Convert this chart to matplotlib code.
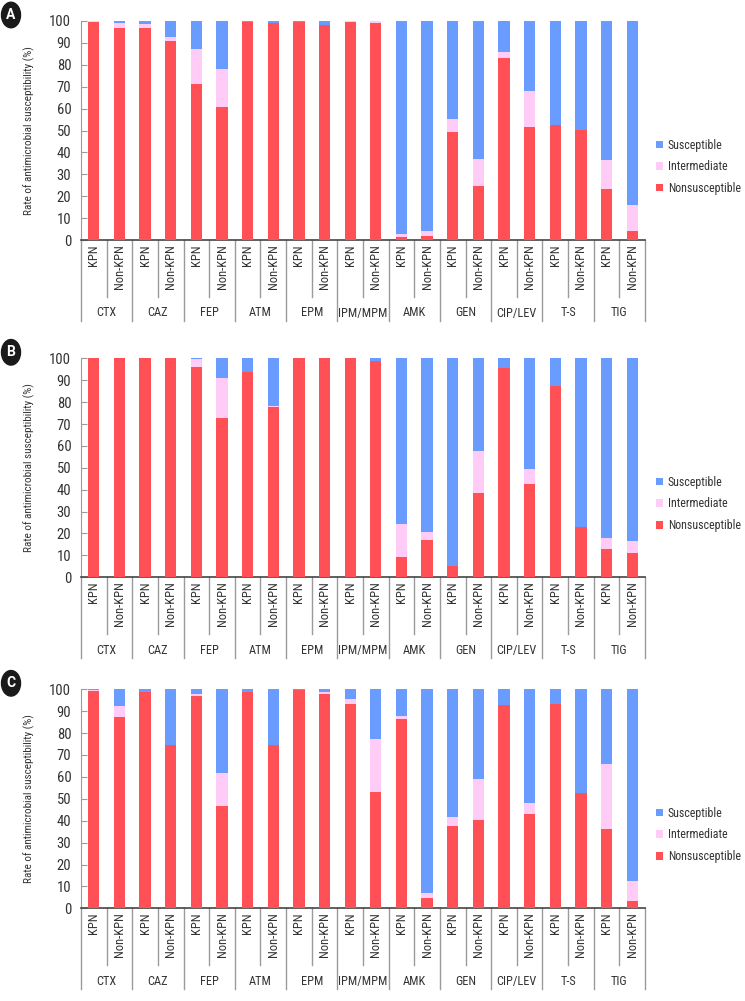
import matplotlib
matplotlib.use("Agg")
import matplotlib.pyplot as plt
from matplotlib.patches import Circle
import numpy as np

plt.rcParams['font.family'] = ['Roboto Condensed', 'Roboto', 'DejaVu Sans']

drugs = ["CTX", "CAZ", "FEP", "ATM", "EPM", "IPM/MPM", "AMK", "GEN", "CIP/LEV", "T-S", "TIG"]
groups = ["KPN", "Non-KPN"]

# Nonsusceptible and intermediate per bar (KPN, Non-KPN for each drug); susceptible = remainder
nonsus_A = [99.6, 96.8, 97.0, 90.9, 71.2, 60.7, 99.7, 99.1, 99.4, 98.3, 99.7, 99.1,
            1.5, 1.8, 49.5, 24.7, 83.0, 51.7, 52.5, 50.2, 23.3, 4.3]
inter_A = [0.4, 2.3, 1.5, 1.6, 16.0, 17.2, 0.0, 0.0, 0.0, 0.0, 0.2, 0.9,
           1.1, 2.3, 5.6, 12.4, 3.0, 16.5, 0.0, 0.0, 13.2, 11.7]

nonsus_B = [100.0, 100.0, 100.0, 100.0, 96.0, 72.6, 93.9, 77.6, 100.0, 100.0, 100.0, 98.9,
            9.1, 17.2, 5.3, 38.4, 95.4, 42.8, 87.5, 22.8, 12.8, 11.3]
inter_B = [0.0, 0.0, 0.0, 0.0, 3.5, 18.3, 0.0, 0.6, 0.0, 0.0, 0.0, 0.0,
           15.4, 3.3, 0.0, 19.1, 0.3, 6.8, 0.0, 0.0, 5.3, 5.1]

nonsus_C = [99.2, 87.2, 98.9, 74.6, 97.0, 46.7, 98.9, 74.6, 99.8, 97.7, 93.5, 53.0,
            86.6, 4.6, 37.6, 40.2, 92.8, 42.9, 93.5, 52.8, 36.2, 3.3]
inter_C = [0.5, 5.2, 0.0, 0.0, 0.9, 15.1, 0.0, 0.0, 0.0, 0.9, 2.2, 24.2,
           1.1, 2.6, 4.1, 19.0, 0.0, 5.0, 0.0, 0.0, 29.7, 9.0]

panels = [("A", nonsus_A, inter_A), ("B", nonsus_B, inter_B), ("C", nonsus_C, inter_C)]

c_red = "#FF5056"
c_pink = "#FFCCF7"
c_blue = "#6A9CFF"
c_grid = "#9A9A9A"
c_text = "#333333"

W, H = 745, 1001
fig = plt.figure(figsize=(W / 100, H / 100), dpi=100)

ax_left = 81 / W
ax_w = (645 - 81) / W
ax_h = 219 / H
tops = [21, 358.3, 689.3]

nbars = len(drugs) * len(groups)
x = np.arange(nbars)
bar_w = 0.44

for (letter, ns, it), top in zip(panels, tops):
    ns = np.array(ns)
    it = np.array(it)
    su = 100 - ns - it
    bottom_px = top + 219
    ax = fig.add_axes([ax_left, 1 - bottom_px / H, ax_w, ax_h])
    ax.bar(x, ns, width=bar_w, color=c_red, label="Nonsusceptible", zorder=3)
    ax.bar(x, it, width=bar_w, bottom=ns, color=c_pink, label="Intermediate", zorder=3)
    ax.bar(x, su, width=bar_w, bottom=ns + it, color=c_blue, label="Susceptible", zorder=3)
    ax.set_xlim(-0.5, nbars - 0.5)
    ax.set_ylim(0, 100)
    ax.set_yticks(np.arange(0, 101, 10))
    ax.tick_params(axis='y', direction='in', length=4, color=c_grid, labelsize=10.5,
                   labelcolor=c_text, pad=7)
    ax.set_xticks([])
    for s in ["top", "right"]:
        ax.spines[s].set_visible(False)
    ax.spines["left"].set_color(c_grid)
    ax.spines["bottom"].set_color("#444444")
    ax.spines["bottom"].set_linewidth(1.2)
    ax.set_ylabel("Rate of antimicrobial susceptibility (%)", fontsize=8, color=c_text,
                  labelpad=10)

    trans = ax.get_xaxis_transform()
    inner_len = 57 / 219
    outer_len = 81 / 219
    for b in range(nbars + 1):
        xb = b - 0.5
        L = outer_len if b % 2 == 0 else inner_len
        ax.plot([xb, xb], [0, -L], transform=trans, color=c_grid, lw=1.0, clip_on=False)
    for i in range(nbars):
        lab = groups[i % 2]
        ax.text(i, -4 / 219, lab, transform=trans, rotation=90, ha='center', va='top',
                fontsize=9, color=c_text)
    for j, d in enumerate(drugs):
        ax.text(2 * j + 0.5, -73 / 219, d, transform=trans, ha='center', va='center',
                fontsize=8.8, color=c_text)

    handles, labels = ax.get_legend_handles_labels()
    ax.legend(handles[::-1], labels[::-1], loc='center left',
              bbox_to_anchor=(1.02, 0.335), frameon=False, fontsize=8.6,
              borderaxespad=0, borderpad=0,
              handlelength=0.6, handleheight=0.6, handletextpad=0.35,
              labelspacing=0.72, labelcolor=c_text)

    # panel letter
    cy = top - 6
    circ = Circle((11 / W, 1 - cy / H), radius=9.5 / W, transform=fig.transFigure,
                  color="#1a1a1a", clip_on=False)
    fig.patches.append(circ)
    fig.text(11 / W, 1 - cy / H, letter, ha='center', va='center', color='white',
             fontsize=10, fontweight='bold', family=['Roboto', 'DejaVu Sans'])

fig.savefig("out.png", dpi=100)
